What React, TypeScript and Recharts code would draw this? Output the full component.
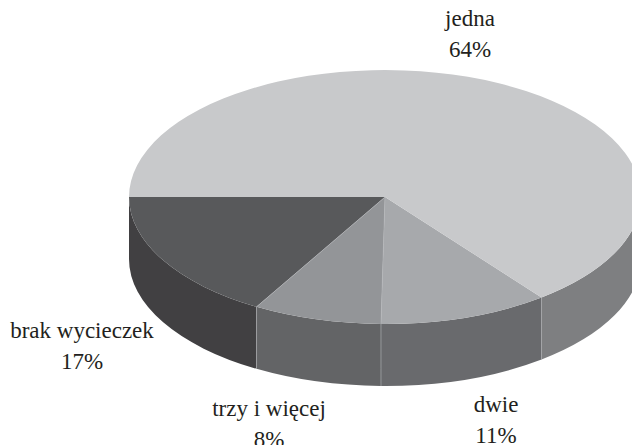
import { PieChart, Pie } from "recharts";

const categories = ["brak wycieczek", "trzy i więcej", "dwie", "jedna"];
const shares = [16.6, 8.1, 10.7, 64.4];
const topColors = ["#58595b", "#939598", "#a7a9ac", "#c8c9cb"];
const wallColors = ["#414042", "#636466", "#696a6d", "#7e7f81"];

// where the two line labels sit, same order as categories
const labelCenters = [
  { x: 82, y: 338 },
  { x: 269, y: 416 },
  { x: 496, y: 412 },
  { x: 470, y: 26 },
];

const data = categories.map((name, i) => ({ name, value: shares[i] }));

const CX = 385;
const CY = 197;
const RADIUS = 256;
const SQUASH = 0.496;
const DEPTH = 62;

function point(cx: number, cy: number, r: number, deg: number) {
  const rad = (deg * Math.PI) / 180;
  return { x: cx + r * Math.cos(rad), y: cy - r * SQUASH * Math.sin(rad) };
}

function SliceShape(props: any) {
  const { cx, cy, outerRadius: r, startAngle, endAngle, index } = props;
  const rx = r;
  const ry = r * SQUASH;
  const a = point(cx, cy, r, startAngle);
  const b = point(cx, cy, r, endAngle);
  const large = endAngle - startAngle > 180 ? 1 : 0;
  const top = `M${cx},${cy} L${a.x},${a.y} A${rx},${ry} 0 ${large} 0 ${b.x},${b.y} Z`;

  // side wall only shows on the front half of the disc
  const wallEnd = Math.min(endAngle, 360);
  const w2 = point(cx, cy, r, wallEnd);
  const wall = `M${a.x},${a.y} A${rx},${ry} 0 0 0 ${w2.x},${w2.y} L${w2.x},${w2.y + DEPTH} A${rx},${ry} 0 0 1 ${a.x},${a.y + DEPTH} Z`;

  return (
    <g>
      <path d={wall} fill={wallColors[index]} stroke="none" />
      {index > 0 && (
        <line x1={a.x} y1={a.y} x2={a.x} y2={a.y + DEPTH} stroke="#a9abae" strokeWidth={0.7} />
      )}
      <path d={top} fill={topColors[index]} stroke="none" />
      {index > 0 && index < 3 && (
        <line x1={cx} y1={cy} x2={a.x} y2={a.y} stroke="#b4b6b8" strokeWidth={0.6} />
      )}
    </g>
  );
}

function SliceLabel(props: any) {
  const { index, value, name } = props;
  const c = labelCenters[index];
  return (
    <text textAnchor="middle" fontFamily="'Liberation Serif', serif" fontSize={23} fill="#231f20">
      <tspan x={c.x} y={c.y}>{name}</tspan>
      <tspan x={c.x} y={c.y + 30.5}>{Math.round(value)}%</tspan>
    </text>
  );
}

export default function App() {
  return (
    <div style={{ position: "absolute", left: 0, top: 0, width: 632, height: 445, background: "#fff", overflow: "hidden" }}>
      <PieChart width={632} height={445} margin={{ top: 0, right: 0, bottom: 0, left: 0 }}>
        <Pie
          data={data}
          dataKey="value"
          nameKey="name"
          cx={CX}
          cy={CY}
          innerRadius={0}
          outerRadius={RADIUS}
          startAngle={180}
          endAngle={540}
          paddingAngle={0}
          stroke="none"
          shape={SliceShape}
          label={SliceLabel}
          labelLine={false}
          isAnimationActive={false}
        />
      </PieChart>
    </div>
  );
}
